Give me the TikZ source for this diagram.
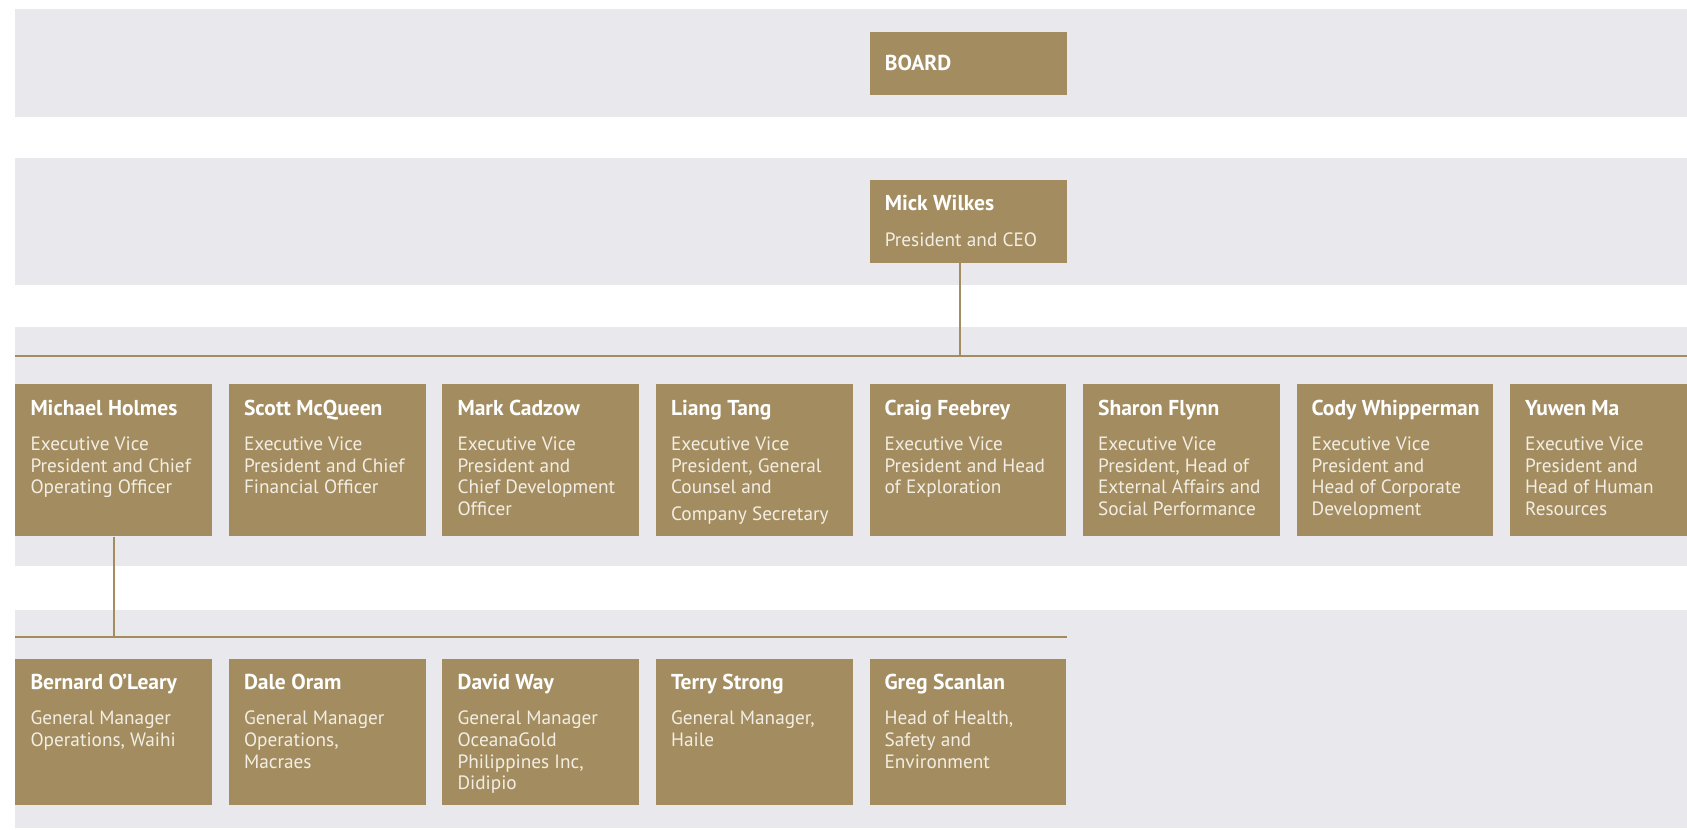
\documentclass[tikz,border=0pt]{standalone}
\usepackage{fontspec}
\setmainfont{PT Sans}
\usepackage{xcolor}
\usepackage{tikz}
\usetikzlibrary{positioning,calc}

\definecolor{gold}{HTML}{A38D60}
\definecolor{band}{HTML}{E9E8ED}
\definecolor{paper}{HTML}{F3EEE4}

\newcommand{\namefont}{\fontsize{11.4}{13.5}\selectfont\bfseries}
\newcommand{\rolefont}{\fontsize{10.2}{11.4}\selectfont\color{paper}}
\newcommand{\cardh}{2.82cm}
\newcommand{\person}[2]{%
  \parbox[t][\cardh][t]{3.1cm}{\raggedright
    \rule[-0.1cm]{0pt}{0.67cm}{\namefont\mbox{#1}}\par
    \nointerlineskip\vskip0.16cm
    {\rolefont\rule{0pt}{0.4cm}#2\par}}}

\tikzset{
  card/.style={fill=gold, text=white, anchor=north west, inner xsep=0.28cm,
    inner ysep=0pt, minimum width=3.66cm},
  boardbox/.style={fill=gold, text=white, anchor=north west, inner xsep=0.28cm,
    text width=3.1cm, align=left, minimum height=1.18cm, font=\namefont},
  link/.style={draw=gold, line width=1.1pt}
}

\begin{document}
\begin{tikzpicture}[x=0.02cm, y=-0.02cm, node distance=0.296cm]
    \useasboundingbox (0,0) rectangle (1568,771);

    % Bands
    \foreach \top/\bot in {8/109, 147/265, 304/526, 567/770}
        \fill[band] (14,\top) rectangle (1568,\bot);

    % Board
    \node[boardbox] (board) at (808,29) {BOARD};

    % CEO
    \renewcommand{\cardh}{1.54cm}
    \node[card] (ceo) at (808,167) {\person{Mick Wilkes}{President and CEO}};

    % Executive team
    \renewcommand{\cardh}{2.82cm}
    \node[card] (holmes) at (14,357)
        {\person{Michael Holmes}{Executive Vice\\President and Chief\\Operating Officer}};
    \node[card, right=of holmes] (mcqueen)
        {\person{Scott McQueen}{Executive Vice\\President and Chief\\Financial Officer}};
    \node[card, right=of mcqueen] (cadzow)
        {\person{Mark Cadzow}{Executive Vice\\President and\\Chief Development\\Officer}};
    \node[card, right=of cadzow] (tang)
        {\person{Liang Tang}{Executive Vice\\President, General\\Counsel and\\[0.1cm]Company Secretary}};
    \node[card, right=of tang] (feebrey)
        {\person{Craig Feebrey}{Executive Vice\\President and Head\\of Exploration}};
    \node[card, right=of feebrey] (flynn)
        {\person{Sharon Flynn}{Executive Vice\\President, Head of\\External Affairs and\\Social Performance}};
    \node[card, right=of flynn] (whipperman)
        {\person{Cody Whipperman}{Executive Vice\\President and\\Head of Corporate\\Development}};
    \node[card, right=of whipperman] (ma)
        {\person{Yuwen Ma}{Executive Vice\\President and\\Head of Human\\Resources}};

    % Operations team
    \renewcommand{\cardh}{2.72cm}
    \node[card] (oleary) at (14,612)
        {\person{Bernard O’Leary}{General Manager\\Operations, Waihi}};
    \node[card, right=of oleary] (oram)
        {\person{Dale Oram}{General Manager\\Operations,\\Macraes}};
    \node[card, right=of oram] (way)
        {\person{David Way}{General Manager\\OceanaGold\\Philippines Inc,\\Didipio}};
    \node[card, right=of way] (strong)
        {\person{Terry Strong}{General Manager,\\Haile}};
    \node[card, right=of strong] (scanlan)
        {\person{Greg Scanlan}{Head of Health,\\Safety and\\Environment}};

    % Reporting lines
    \coordinate (execbus) at (14,331);
    \coordinate (execend) at (1568,331);
    \coordinate (opsbus) at (14,592);
    \coordinate (opsend) at (scanlan.north east |- opsbus);
    \draw[link] (execbus) -- (execend);
    \draw[link] ([xshift=-0.158cm]ceo.south) -- ([xshift=-0.158cm]ceo.south |- execbus);
    \draw[link] (opsbus) -- (opsend);
    \draw[link] (holmes.south) -- (holmes.south |- opsbus);
\end{tikzpicture}
\end{document}
